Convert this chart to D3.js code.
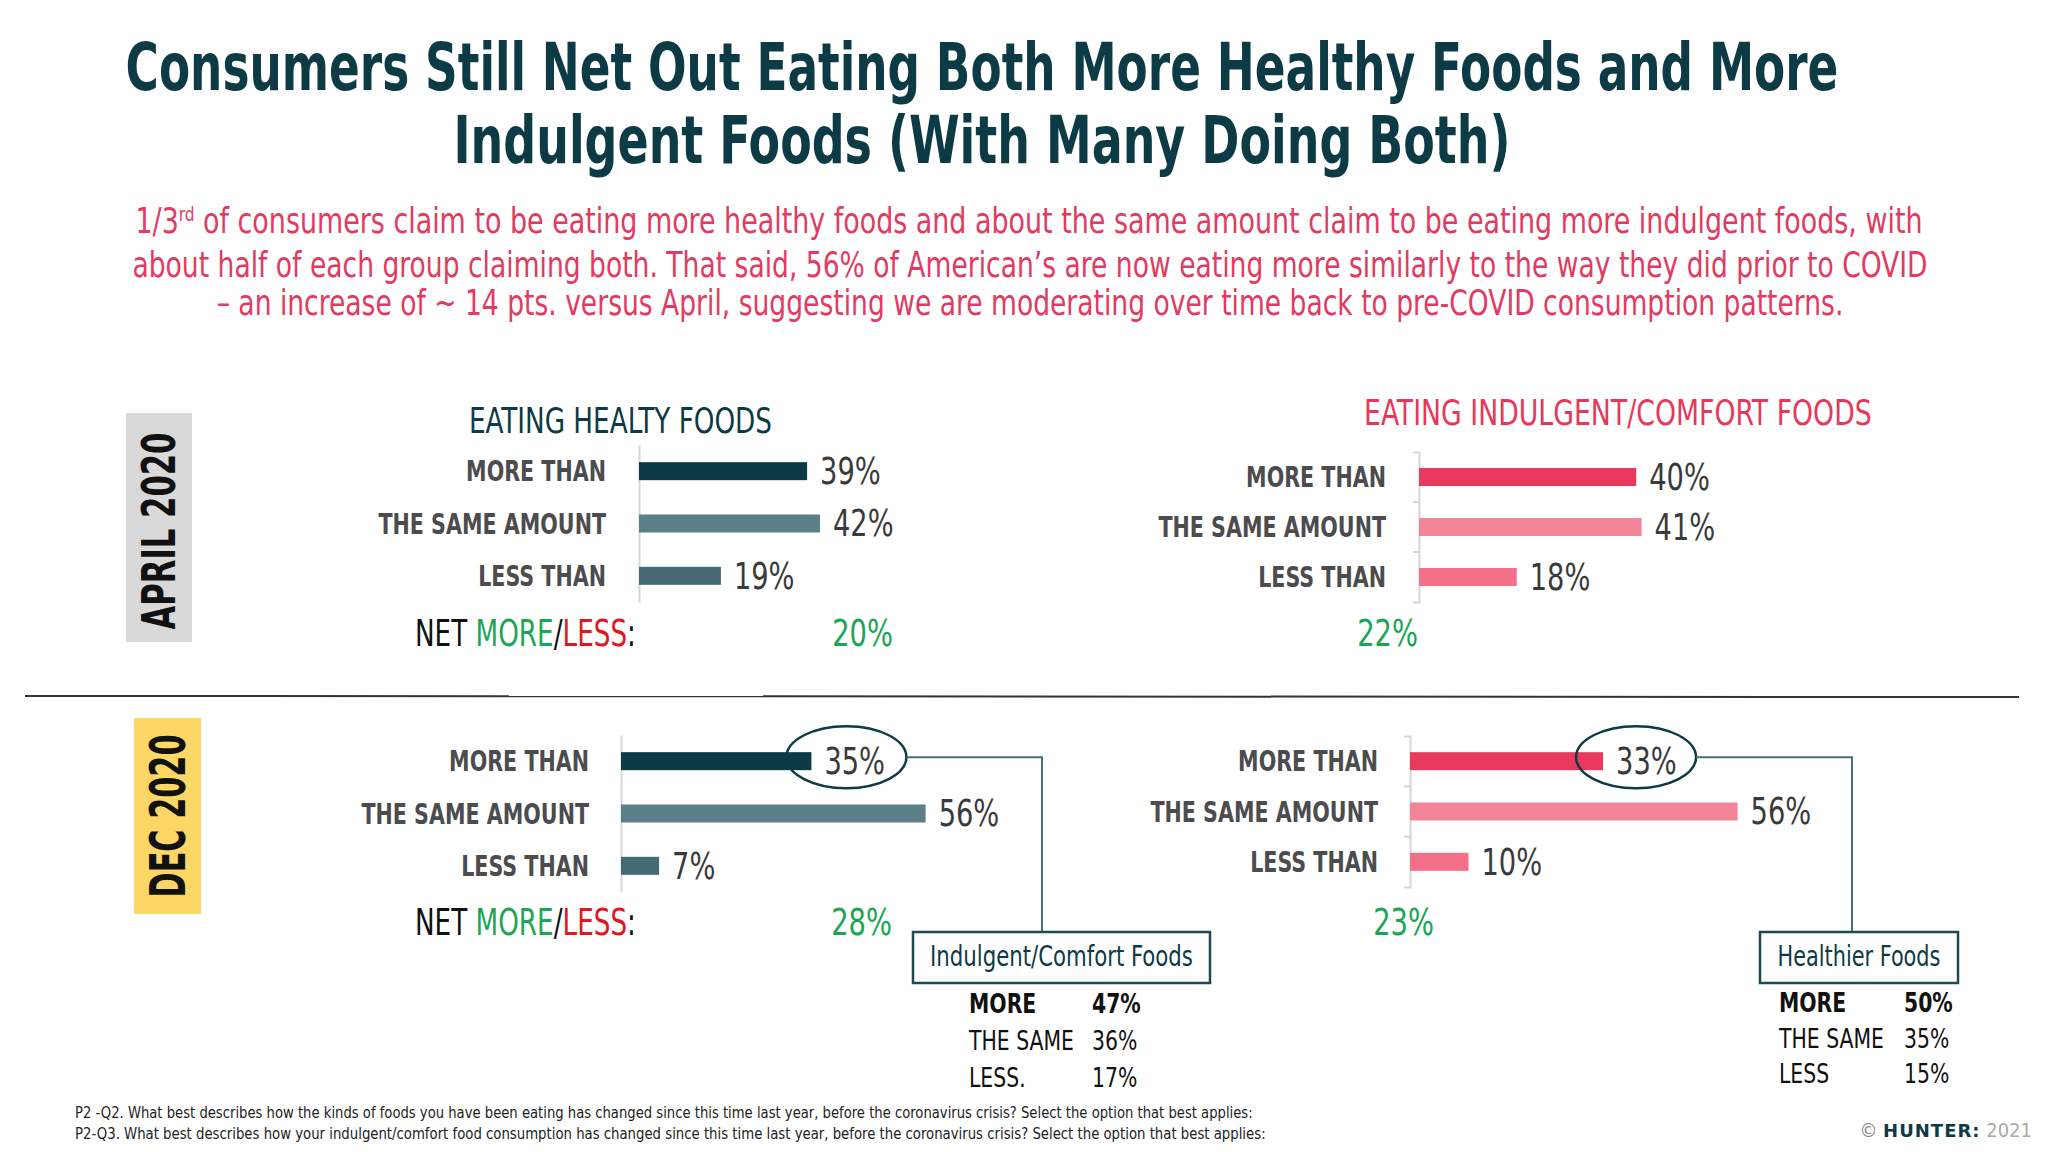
<!DOCTYPE html>
<html>
<head>
<meta charset="utf-8">
<script src="https://cdn.jsdelivr.net/npm/d3@7"></script>
<style>
  body { margin: 0; background: #fff; }
  svg { display: block; }
</style>
</head>
<body>
<div id="chart"></div>
<script>
// data
const categories = ["MORE THAN", "THE SAME AMOUNT", "LESS THAN"]
const aprilHealthy = [39, 42, 19]
const aprilIndulgent = [40, 41, 18]
const decHealthy = [35, 56, 7]
const decIndulgent = [33, 56, 10]
const netValues = [20, 22, 28, 23]
const summaryLabelsIndulgent = ["MORE", "THE SAME", "LESS."]
const summaryIndulgent = [47, 36, 17]
const summaryLabelsHealthier = ["MORE", "THE SAME", "LESS"]
const summaryHealthier = [50, 35, 15]

// ----------------------------------------------------------
const width = 2048
const height = 1152
const narrow = "'Liberation Sans Narrow', 'DejaVu Sans Condensed', sans-serif"
const teal = "#0c3a45"
const pink = "#e23a60"
const green = "#1aa653"

const svg = d3.select("div#chart").append("svg").attr("width", width).attr("height", height)

// squeeze a text horizontally round its anchor point (no narrow font installed)
const squeeze = function(sel, sx) {
  sel.each(function() {
    const x = +d3.select(this).attr("x") || 0
    const k = typeof sx === "function" ? sx(this) : sx
    d3.select(this).attr("transform", `translate(${x},0) scale(${k},1) translate(${-x},0)`)
  })
}
const fit = function(sel, w) { squeeze(sel, node => w / node.getComputedTextLength()) }

//Titles:
const titleGroup = svg.append("g").attr("id", "titleGroup")
const titleLines = [
  {t: "Consumers Still Net Out Eating Both More Healthy Foods and More", y: 90, len: 1713},
  {t: "Indulgent Foods (With Many Doing Both)", y: 163, len: 1057}
]
titleLines.forEach(l => {
  titleGroup.append("text")
    .text(l.t)
    .attr("x", 982).attr("y", l.y)
    .attr("text-anchor", "middle")
    .style("font-family", narrow).style("font-weight", "bold")
    .style("font-size", "66px").style("fill", teal)
    .call(fit, l.len)
})

const sub1 = titleGroup.append("text")
  .attr("x", 1029).attr("y", 233)
  .attr("text-anchor", "middle")
  .style("font-family", narrow).style("font-size", "35px").style("fill", pink)
sub1.append("tspan").text("1/3")
sub1.append("tspan").text("rd").attr("dy", -12).style("font-size", "20px")
sub1.append("tspan").text(" of consumers claim to be eating more healthy foods and about the same amount claim to be  eating more indulgent foods, with").attr("dy", 12)
sub1.call(fit, 1788)

const subLines = [
  {t: "about half of each group claiming both.  That said, 56% of American\u2019s are now eating more similarly to the way they did prior to COVID", y: 277, len: 1796},
  {t: "\u2013 an increase of ~ 14 pts. versus April, suggesting we are moderating over time back to pre-COVID consumption patterns.", y: 315, len: 1627}
]
subLines.forEach(l => {
  titleGroup.append("text")
    .text(l.t)
    .attr("x", 1030).attr("y", l.y)
    .attr("text-anchor", "middle")
    .style("font-family", narrow).style("font-size", "35px").style("fill", pink)
    .call(fit, l.len)
})

//Period labels:
const periods = [
  {t: "APRIL 2020", box: [126, 413, 66, 229], fill: "#d9d9d9", bx: 175, cy: 531, len: 197, size: 46},
  {t: "DEC 2020", box: [134, 718, 67, 196], fill: "#fdd766", bx: 185, cy: 816, len: 163, size: 50}
]
periods.forEach(p => {
  svg.append("rect")
    .attr("x", p.box[0]).attr("y", p.box[1]).attr("width", p.box[2]).attr("height", p.box[3])
    .attr("fill", p.fill)
  const t = svg.append("text")
    .text(p.t)
    .attr("text-anchor", "middle")
    .style("font-family", "'DejaVu Sans', sans-serif").style("font-weight", "bold")
    .style("font-size", p.size + "px").style("fill", "#111")
  const k = p.len / t.node().getComputedTextLength()
  t.attr("transform", `translate(${p.bx}, ${p.cy}) rotate(-90) scale(${k},1)`)
})

svg.append("line")
  .attr("x1", 25).attr("x2", 2019).attr("y1", 696).attr("y2", 697)
  .attr("stroke", "#333").attr("stroke-width", 2)

//Panels:
const panels = [
  {values: aprilHealthy, net: netValues[0], axisX: 639, y0: 445, y1: 602, full: 431, labelRight: 606,
   colors: ["#0c3a45", "#5b8087", "#446b74"], ticks: false, netRight: 893, netY: 646, netLabel: true,
   heading: {t: "EATING HEALTY FOODS", x: 469, y: 433, len: 303, color: teal}},
  {values: aprilIndulgent, net: netValues[1], axisX: 1419, y0: 452, y1: 602, full: 543, labelRight: 1386,
   colors: ["#e83a5c", "#f28598", "#f27088"], ticks: true, netRight: 1418, netY: 646, netLabel: false,
   heading: {t: "EATING INDULGENT/COMFORT FOODS", x: 1364, y: 425, len: 508, color: "#e8385a"}},
  {values: decHealthy, net: netValues[2], axisX: 621, y0: 735, y1: 892, full: 544, labelRight: 589,
   colors: ["#0c3a45", "#5b8087", "#446b74"], ticks: false, netRight: 892, netY: 935, netLabel: true,
   callout: {dx: 35, rx: 60, ry: 31, lineX: 1042, box: [913, 932, 297, 51], title: "Indulgent/Comfort Foods", titleLen: 263,
     labels: summaryLabelsIndulgent, values: summaryIndulgent, labelX: 969, valueX: 1092, rows: [1013, 1050, 1087]}},
  {values: decIndulgent, net: netValues[3], axisX: 1410, y0: 736, y1: 887, full: 585, labelRight: 1378,
   colors: ["#e83a5c", "#f28598", "#f27088"], ticks: true, netRight: 1434, netY: 935, netLabel: false,
   callout: {dx: 33, rx: 60, ry: 31, lineX: 1852, box: [1760, 932, 198, 51], title: "Healthier Foods", titleLen: 163,
     labels: summaryLabelsHealthier, values: summaryHealthier, labelX: 1779, valueX: 1904, rows: [1012, 1048, 1083]}}
]

panels.forEach((p, i) => {
  const g = svg.append("g").attr("id", "panel" + i)
  const x = d3.scaleLinear().domain([0, 100]).range([p.axisX, p.axisX + p.full])
  const y = d3.scaleBand().domain(categories).range([p.y0, p.y1])
  const rows = categories.map((c, k) => ({cat: c, value: p.values[k], color: p.colors[k]}))

  if (p.heading) {
    g.append("text").text(p.heading.t)
      .attr("x", p.heading.x).attr("y", p.heading.y)
      .style("font-family", narrow).style("font-size", "36px").style("fill", p.heading.color)
      .call(fit, p.heading.len)
  }

  //axis + category labels
  const yAxis = d3.axisLeft(y).tickSizeInner(0).tickSizeOuter(p.ticks ? 6 : 0).tickPadding(p.axisX - p.labelRight)
  const axisG = g.append("g").attr("transform", `translate(${p.axisX}, 0)`).call(yAxis)
  axisG.select(".domain").attr("stroke", "#d6d6d6").attr("stroke-width", 2)
  axisG.selectAll("text")
    .style("font-family", narrow).style("font-weight", "bold")
    .style("font-size", "28px").style("fill", "#4c4c4e")
    .attr("dy", "0.36em")
    .call(squeeze, 0.82)
  if (p.ticks) {
    categories.slice(1).forEach(c => {
      g.append("line")
        .attr("x1", p.axisX - 6).attr("x2", p.axisX)
        .attr("y1", y(c)).attr("y2", y(c))
        .attr("stroke", "#d6d6d6").attr("stroke-width", 2)
    })
  }

  //bars
  const barH = 18
  g.selectAll("rect.bar").data(rows).enter().append("rect")
    .attr("class", "bar")
    .attr("x", x(0))
    .attr("y", d => y(d.cat) + y.bandwidth() / 2 - barH / 2)
    .attr("width", d => x(d.value) - x(0))
    .attr("height", barH)
    .attr("fill", d => d.color)

  g.selectAll("text.value").data(rows).enter().append("text")
    .attr("class", "value")
    .text(d => d.value + "%")
    .attr("x", d => x(d.value) + 13)
    .attr("y", d => y(d.cat) + y.bandwidth() / 2 + 13)
    .style("font-family", narrow).style("font-size", "37px").style("fill", "#3a3a3a")
    .call(squeeze, 0.82)

  //net line
  if (p.netLabel) {
    const nt = g.append("text")
      .attr("x", 415).attr("y", p.netY)
      .style("font-family", narrow).style("font-size", "37px")
    nt.append("tspan").text("NET ").style("fill", "#111")
    nt.append("tspan").text("MORE").style("fill", green)
    nt.append("tspan").text("/").style("fill", "#111")
    nt.append("tspan").text("LESS").style("fill", "#e3161d")
    nt.append("tspan").text(":").style("fill", "#111")
    nt.call(fit, 221)
  }
  g.append("text").text(p.net + "%")
    .attr("x", p.netRight).attr("y", p.netY)
    .attr("text-anchor", "end")
    .style("font-family", narrow).style("font-size", "38px").style("fill", green)
    .call(squeeze, 0.8)

  //callout
  if (p.callout) {
    const c = p.callout
    const first = rows[0]
    const cx = x(first.value) + c.dx
    const cy = y(first.cat) + y.bandwidth() / 2 - 4
    g.append("ellipse")
      .attr("cx", cx).attr("cy", cy).attr("rx", c.rx).attr("ry", c.ry)
      .attr("fill", "none").attr("stroke", teal).attr("stroke-width", 2.5)
    g.append("path")
      .attr("d", `M${cx + c.rx},${cy} H${c.lineX} V${c.box[1]}`)
      .attr("fill", "none").attr("stroke", "#4a6f76").attr("stroke-width", 2)
    g.append("rect")
      .attr("x", c.box[0]).attr("y", c.box[1]).attr("width", c.box[2]).attr("height", c.box[3])
      .attr("fill", "#fff").attr("stroke", "#1c4952").attr("stroke-width", 2.5)
    g.append("text").text(c.title)
      .attr("x", c.box[0] + c.box[2] / 2).attr("y", c.box[1] + 34)
      .attr("text-anchor", "middle")
      .style("font-family", narrow).style("font-size", "29px").style("fill", teal)
      .call(fit, c.titleLen)
    c.labels.forEach((l, k) => {
      const w = k === 0 ? "bold" : "normal"
      g.append("text").text(l)
        .attr("x", c.labelX).attr("y", c.rows[k])
        .style("font-family", narrow).style("font-weight", w)
        .style("font-size", "27px").style("fill", "#111")
        .call(squeeze, 0.84)
      g.append("text").text(c.values[k] + "%")
        .attr("x", c.valueX).attr("y", c.rows[k])
        .style("font-family", narrow).style("font-weight", w)
        .style("font-size", "27px").style("fill", "#111")
        .call(squeeze, 0.84)
    })
  }
})

//Footnotes:
const notes = [
  {t: "P2 -Q2. What best describes how the kinds of foods you have been eating has changed since this time last year, before the coronavirus crisis? Select the option that best applies:", y: 1118, len: 1179},
  {t: "P2-Q3. What best describes how your indulgent/comfort food consumption has changed since this time last year, before the coronavirus crisis? Select the option that best applies:", y: 1139, len: 1192}
]
notes.forEach(n => {
  svg.append("text").text(n.t)
    .attr("x", 75).attr("y", n.y)
    .style("font-family", narrow).style("font-size", "16px").style("fill", "#222")
    .call(fit, n.len)
})

const brand = svg.append("text")
  .attr("x", 2032).attr("y", 1137)
  .attr("text-anchor", "end")
  .style("font-family", narrow).style("font-size", "20px")
brand.append("tspan").text("\u00a9 ").style("fill", "#888")
brand.append("tspan").text("HUNTER:").style("fill", teal).style("font-weight", "bold").style("letter-spacing", "1px")
  .style("font-family", "'DejaVu Sans', sans-serif").style("font-size", "18px")
brand.append("tspan").text(" 2021").style("fill", "#aaa")
</script>
</body>
</html>
